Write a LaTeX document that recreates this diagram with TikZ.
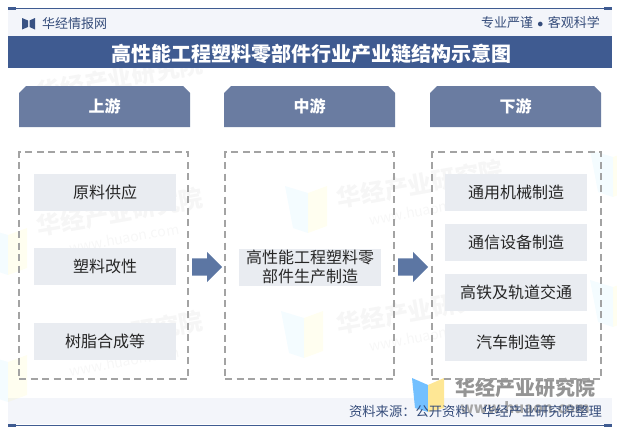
\documentclass[tikz,border=0pt]{standalone}
\usepackage{fontspec}
\usepackage{xcolor}
\setmainfont{Noto Sans CJK SC}
\usetikzlibrary{shapes.misc,shapes.arrows,positioning}
\definecolor{navy}{HTML}{3F5B91}
\definecolor{slate}{HTML}{6A7CA1}
\definecolor{pale}{HTML}{F3F5FA}
\definecolor{itemgray}{HTML}{E9ECF1}
\definecolor{dashgray}{HTML}{A3A3A3}
\definecolor{arrowblue}{HTML}{5C76A3}
\tikzset{
  head/.style={chamfered rectangle,chamfered rectangle corners={north west,north east},chamfered rectangle xsep=3.5pt,chamfered rectangle ysep=3.5pt,fill=slate,text=white,inner sep=0pt,minimum width=171pt,minimum height=41pt,font=\fontsize{16}{18}\selectfont\bfseries},
  group/.style={draw=dashgray,line width=1.4pt,dash pattern=on 7pt off 4.5pt,minimum width=169pt,minimum height=227pt,inner sep=0pt},
  item/.style={fill=itemgray,text=black!85,inner sep=0pt,minimum width=142pt,minimum height=37pt,align=center,font=\fontsize{16}{18.5}\selectfont},
  go/.style={single arrow,fill=arrowblue,inner sep=8.5pt,minimum width=30pt,minimum height=30pt,single arrow head extend=6.5pt,single arrow tip angle=90,anchor=tail},
  band/.style={fill=pale,inner sep=0pt,minimum width=604pt,minimum height=27pt},
  wmark/.style={text=black!3.5,rotate=10,font=\fontsize{24}{26}\selectfont\bfseries},
  wsite/.style={text=black!3,rotate=10,font=\fontsize{14}{16}\selectfont},
  small/.style={text=navy!85!black,inner sep=0pt,font=\fontsize{13}{15}\selectfont}
}

\begin{document}
\begin{tikzpicture}[x=1pt,y=-1pt]
    \useasboundingbox (0,0) rectangle (617,434);

    % bands
    \node[band] (topband) at (310,22.5) {};
    \node[band,minimum height=26pt] (footband) at (310,411) {};

    % faint marks behind the boxes
    \foreach \px/\py/\pname in {120/78/e,120/212/a,420/184/b,120/335/c,420/310/d}{
        \node[wmark] (mark\pname) at (\px,\py) {华经产业研究院};
        \node[wsite,below=2pt of mark\pname] (site\pname) {www.huaon.com};
    }
    \foreach \lx/\ly in {285/186,281/311,-15/228,-15/355,590/150,590/280}{
        \fill[blue!30!cyan,opacity=.045] (\lx,\ly) -- ++(23,7) -- ++(0,40) -- ++(-15,-5) -- cycle;
        \fill[yellow,opacity=.06] (\lx+23,\ly+7) -- ++(19,-7) -- ++(0,40) -- ++(-19,7) -- cycle;
    }

    \node[inner sep=0pt,fill=navy,minimum width=604pt,minimum height=32pt] (title) at (310,52) {};

    % bottom mark
    \fill[blue!45!cyan!55!white] (412,378) -- (428,385) -- (428,412) -- (415,408) -- cycle;
    \fill[yellow!60!orange!40!white] (428,385) -- (444,378) -- (444,408) -- (428,412) -- cycle;
    \node[text=black!42,font=\fontsize{20}{22}\selectfont\bfseries,inner sep=0pt] (brand) at (525,388) {华经产业研究院};
    \node[text=black!35,font=\fontsize{15}{17}\selectfont\bfseries,inner sep=0pt] (site) at (525,408) {www.huaon.com};

    % rules
    \coordinate (ruletl) at (8,8);
    \coordinate (ruletr) at (612,8);
    \coordinate (rulebl) at (8,425);
    \coordinate (rulebr) at (612,425);
    \draw[navy,line width=.9pt] (ruletl) -- (ruletr);
    \draw[navy,line width=.9pt] (rulebl) -- (rulebr);
    \fill[navy] (8,7) rectangle (16,10);
    \fill[navy] (604,7) rectangle (612,10);
    \fill[navy] (8,424) rectangle (16,427);
    \fill[navy] (604,424) rectangle (612,427);

    % header and footer
    \fill[navy!90!black] (22,18) -- (28,20.5) -- (28,27) -- (22,29.5) -- cycle;
    \fill[navy!90!black] (35,18) -- (29.5,20.5) -- (29.5,27) -- (35,29.5) -- cycle;
    \node[small,anchor=west] (site name) at (42,23.5) {华经情报网};
    \node[small,anchor=east] (motto) at (600,22.5) {专业严谨\,\,$\bullet$\,\,客观科学};
    \node[inner sep=0pt,text=white,font=\fontsize{20}{22}\selectfont\bfseries] (titletext) at (311,53.5) {高性能工程塑料零部件行业产业链结构示意图};
    \node[small,anchor=east,font=\fontsize{13.3}{15}\selectfont] (source) at (602,411) {资料来源：公开资料、华经产业研究院整理};

    % columns
    \node[head] (up) at (104.5,106.5) {上游};
    \node[head] (mid) at (309.5,106.5) {中游};
    \node[head] (down) at (515.5,106.5) {下游};

    \node[group] (upbox) at (103.5,265.5) {};
    \node[group] (midbox) at (309.5,265.5) {};
    \node[group] (downbox) at (516.5,265.5) {};

    \node[item] (a) at (105,192.5) {原料供应};
    \node[item] (b) at (105,266.5) {塑料改性};
    \node[item] (c) at (105,341) {树脂合成等};
    \node[item] (d) at (310,267) {高性能工程塑料零\\部件生产制造};
    \node[item] (e) at (516,192.5) {通用机械制造};
    \node[item] (f) at (516,242.5) {通信设备制造};
    \node[item] (g) at (516,292.5) {高铁及轨道交通};
    \node[item] (h) at (516,342) {汽车制造等};

    \node[go] (go1) at (192,267) {};
    \node[go] (go2) at (398,267) {};
\end{tikzpicture}
\end{document}
